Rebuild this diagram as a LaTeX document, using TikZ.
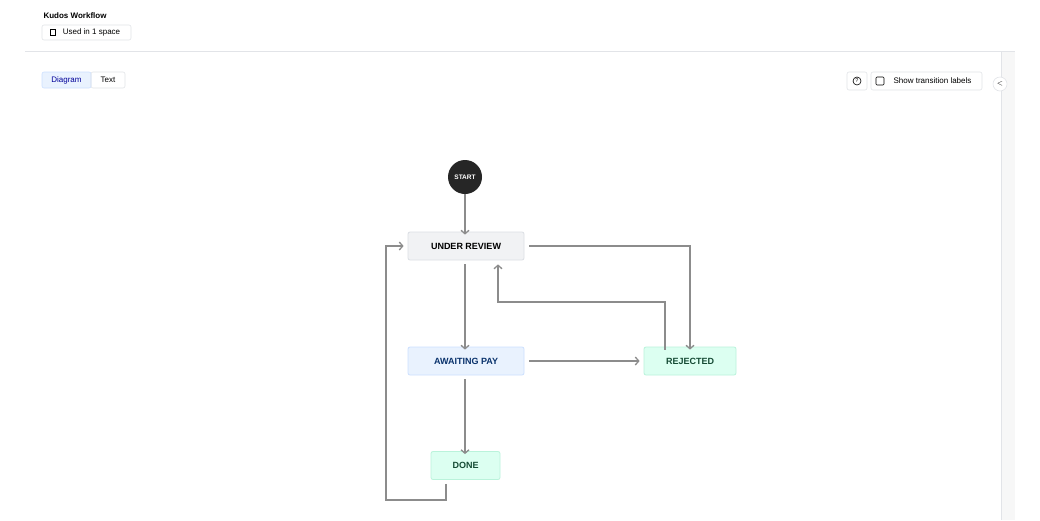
\documentclass[tikz,border=0pt]{standalone}
\usepackage{fontspec}
\setmainfont{Liberation Sans}
\usetikzlibrary{arrows.meta}
\definecolor{edge}{HTML}{8C8C8C}
\definecolor{bd}{HTML}{E2E4E8}
\definecolor{urfill}{HTML}{F1F2F4}
\definecolor{urbd}{HTML}{DCDFE4}
\definecolor{apfill}{HTML}{E9F2FE}
\definecolor{apbd}{HTML}{CCE0FF}
\definecolor{aptext}{HTML}{09326C}
\definecolor{gfill}{HTML}{DCFFF1}
\definecolor{gbd}{HTML}{BAF3DB}
\definecolor{gtext}{HTML}{164B35}
\begin{document}
\begin{tikzpicture}[x=1pt,y=-1pt,
  st/.style={draw, rounded corners=2pt, line width=0.8pt, minimum height=28pt, font=\fontsize{9}{10}\selectfont\bfseries, inner sep=0pt},
  conn/.style={draw=edge, line width=1.3pt, -{Straight Barb[length=3.5pt,width=8pt]}},
  btn/.style={draw=bd, rounded corners=2pt, line width=0.6pt, font=\fontsize{8}{9}\selectfont, inner sep=0pt}]
\useasboundingbox (0,0) rectangle (1040,520);
\fill[white] (0,0) rectangle (1040,520);
\fill[gray!6] (1001,51) rectangle (1015,520);
\draw[bd] (1001,51) -- (1001,520);
\draw[bd,line width=0.8pt] (25,51) -- (1015,51);
\node[anchor=west,font=\fontsize{8}{9}\selectfont\bfseries] (title) at (40,16) {Kudos Workflow};
\node[btn, minimum width=89pt, minimum height=15pt] (used) at (86.5,32.5) {\hspace*{10pt}Used in 1 space};
\node[draw, line width=0.6pt, minimum width=5pt, minimum height=6.5pt, inner sep=0pt] (doc) at (52.5,32.5) {};
\node[btn, fill=apfill, draw=apbd, minimum width=49pt, minimum height=16pt, text=blue!60!black] (diag) at (66.5,80) {Diagram};
\node[btn, minimum width=34pt, minimum height=16pt] (text) at (108,80) {Text};
\node[btn, minimum width=20pt, minimum height=18pt] (help) at (857,81) {};
\node[draw, circle, line width=0.6pt, minimum size=8pt, inner sep=0pt, font=\fontsize{5.5}{6}\selectfont] (q) at (857,81) {?};
\node[btn, minimum width=111pt, minimum height=18pt] (labels) at (926.5,81) {\hspace*{12pt}Show transition labels};
\node[draw, rounded corners=1pt, line width=0.6pt, minimum size=8pt, inner sep=0pt] (cb) at (880,81) {};
\node[draw=bd, fill=white, circle, line width=0.6pt, minimum size=14pt, inner sep=0pt, font=\fontsize{7}{8}\selectfont] (coll) at (1000,84) {$<$};

\node[circle, fill=black!85, text=white, minimum size=34pt, inner sep=0pt, font=\fontsize{6.5}{7}\selectfont\bfseries] (start) at (465,177) {START};
\node[st, draw=urbd, fill=urfill, minimum width=116pt] (ur) at (466,246) {UNDER REVIEW};
\node[st, draw=apbd, fill=apfill, minimum width=116pt, text=aptext] (ap) at (466,361) {AWAITING PAY};
\node[st, draw=gbd, fill=gfill, minimum width=92pt, text=gtext] (rej) at (690,361) {REJECTED};
\node[st, draw=gbd, fill=gfill, minimum width=69pt, text=gtext] (done) at (465.5,465.5) {DONE};

\draw[conn] (start) -- ([yshift=-3pt]ur.north -| start);
\draw[conn] ([yshift=-4pt]ur.south -| start) -- ([yshift=-3pt]ap.north -| start);
\draw[conn] ([xshift=5pt]ur.east) -- (690,246) -- ([yshift=-3pt]rej.north);
\draw[conn] ([xshift=-25pt,yshift=-3pt]rej.north) -- (665,302) -- (498,302) -- ([yshift=-4pt]ur.south -| 498,0);
\draw[conn] ([xshift=5pt]ap.east) -- ([xshift=-4pt]rej.west);
\draw[conn] ([yshift=-4pt]ap.south -| start) -- ([yshift=-3pt]done.north -| start);
\draw[conn] ([yshift=-4pt]done.south -| 446,0) -- (446,500) -- (386,500) -- (386,246) -- ([xshift=-4pt]ur.west);
\end{tikzpicture}
\end{document}
